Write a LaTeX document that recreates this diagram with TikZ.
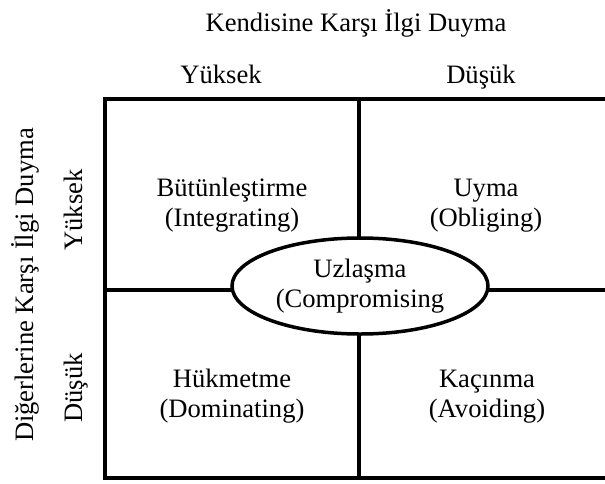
\documentclass[tikz,border=0pt]{standalone}
\usepackage{fontspec}
\setmainfont{Liberation Serif}
\usetikzlibrary{shapes.geometric}
\tikzset{
  lbl/.style={font=\fontsize{26.6}{30}\selectfont, inner sep=0pt, anchor=base, align=center},
  grid/.style={line width=4pt},
  oval/.style={ellipse, draw, fill=white, line width=3.5pt, minimum width=256pt, minimum height=96pt, inner sep=0pt, font=\fontsize{26.6}{30}\selectfont, align=center}
}
\begin{document}
\begin{tikzpicture}[x=1pt,y=-1pt]
\useasboundingbox (0,0) rectangle (605,483);
\clip (0,0) rectangle (605,483);
% grid corners
\coordinate (tl) at (104.5,99);
\coordinate (tr) at (612,99);
\coordinate (bl) at (104.5,478);
\coordinate (br) at (612,478);
\coordinate (tm) at (359,99);
\coordinate (bm) at (359,478);
\coordinate (ml) at (104.5,290);
\coordinate (mr) at (612,290);
\draw[grid] (tr) -- (tl) -- (bl) -- (br);
\draw[grid] (tm) -- (bm);
\draw[grid] (ml) -- (mr);
\node[oval] (uz) at (360,286) {Uzlaşma\\(Compromising};
% headings
\node[lbl] (title) at (356,31) {Kendisine Karşı İlgi Duyma};
\node[lbl] (yk) at (221,83) {Yüksek};
\node[lbl] (dk) at (481,83) {Düşük};
\node[lbl, rotate=90] (ltitle) at (33,285) {Diğerlerine Karşı İlgi Duyma};
\node[lbl, rotate=90] (lyk) at (82,210) {Yüksek};
\node[lbl, rotate=90] (ldk) at (82,388) {Düşük};
% cells
\node[lbl] (int) at (232,226) {Bütünleştirme\\(Integrating)};
\node[lbl] (obl) at (486,226) {Uyma\\(Obliging)};
\node[lbl] (dom) at (232,417) {Hükmetme\\(Dominating)};
\node[lbl] (avo) at (487,417) {Kaçınma\\(Avoiding)};
\end{tikzpicture}
\end{document}
